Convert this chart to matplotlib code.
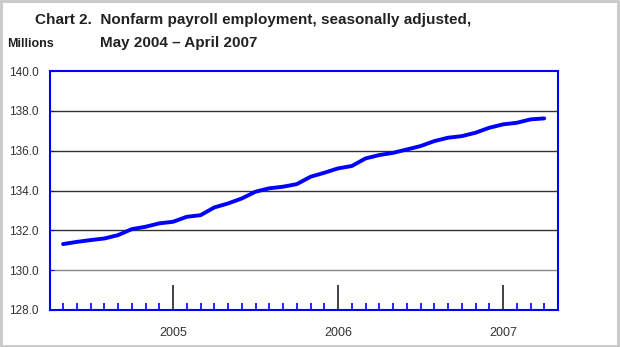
import matplotlib.pyplot as plt
from matplotlib.patches import Rectangle

plt.rcParams['font.family'] = ['Liberation Sans', 'DejaVu Sans']

# monthly index 0 = May 2004 ... 35 = April 2007
months = list(range(36))
payroll = [131.31, 131.42, 131.51, 131.59, 131.76, 132.06, 132.18, 132.35,
           132.43, 132.68, 132.76, 133.15, 133.35, 133.60, 133.94, 134.11,
           134.19, 134.32, 134.69, 134.89, 135.11, 135.23, 135.61, 135.78,
           135.89, 136.06, 136.23, 136.48, 136.65, 136.73, 136.90, 137.15,
           137.32, 137.40, 137.57, 137.62]
year_pos = [8, 20, 32]
year_labels = ['2005', '2006', '2007']
yticks = [128, 130, 132, 134, 136, 138, 140]

blue = '#0000ff'

fig = plt.figure(figsize=(6.2, 3.47), dpi=100)
ax = fig.add_axes([50 / 620, 37 / 347, 508 / 620, 239 / 347])

for y in [132, 134, 136, 138]:
    ax.axhline(y, color='#333333', lw=1.0, zorder=1)
ax.axhline(130, color='#888888', lw=1.0, zorder=1)

ax.plot(months, payroll, color=blue, lw=2.8, zorder=3, solid_capstyle='round')

ax.set_xlim(-0.95, 36)
ax.set_ylim(128, 140)
ax.set_yticks(yticks)
ax.set_yticklabels(['%.1f' % v for v in yticks])
ax.tick_params(axis='y', direction='in', length=3, color=blue, labelsize=8.5,
               labelcolor='#333333', pad=8)

# minor month ticks and major year ticks drawn from the bottom
minor = [m for m in months if m not in year_pos]
ax.set_xticks(year_pos)
ax.set_xticklabels(year_labels)
ax.set_xticks(minor, minor=True)
ax.tick_params(axis='x', which='major', direction='in', length=18, width=1.3,
               color='#333333', labelsize=9, labelcolor='#333333', pad=12)
ax.tick_params(axis='x', which='minor', direction='in', length=5, width=1.2,
               color=blue)

for s in ax.spines.values():
    s.set_color(blue)
    s.set_linewidth(1.5)

fig.text(35 / 620, 1 - 20 / 347, 'Chart 2.  Nonfarm payroll employment, seasonally adjusted,',
         fontsize=11, fontweight='bold', color='#222222', va='center')
fig.text(100 / 620, 1 - 43 / 347, 'May 2004 \u2013 April 2007',
         fontsize=11, fontweight='bold', color='#222222', va='center')
fig.text(7 / 620, 1 - 44 / 347, 'Millions', fontsize=9, fontweight='bold',
         color='#222222', va='center')

fig.patches.append(Rectangle((0.002, 0.003), 0.994, 0.994, transform=fig.transFigure,
                             fill=False, edgecolor='#c8c8c8', lw=2))

fig.savefig('out.png', dpi=100)
